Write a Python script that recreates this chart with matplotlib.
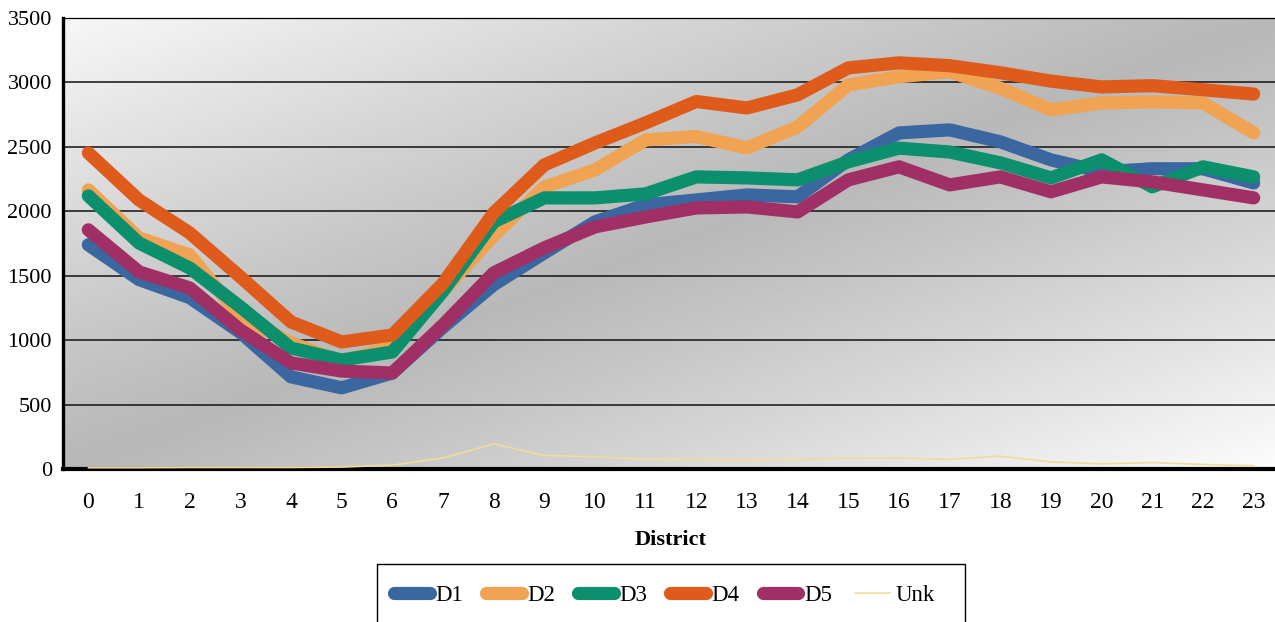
import numpy as np
import matplotlib
matplotlib.use("Agg")
import matplotlib.pyplot as plt
from matplotlib.patches import Rectangle

plt.rcParams['font.family'] = ['Liberation Serif', 'DejaVu Serif']

districts = list(range(24))
d1 = [1740, 1470, 1330, 1060, 715, 630, 745, 1100, 1430, 1677, 1918, 2050,
      2088, 2127, 2112, 2399, 2608, 2632, 2539, 2399, 2306, 2330, 2330, 2220]
d2 = [2166, 1793, 1661, 1180, 980, 830, 950, 1380, 1810, 2190, 2321, 2554,
      2580, 2492, 2655, 2981, 3044, 3083, 2955, 2787, 2841, 2849, 2841, 2608]
d3 = [2120, 1754, 1560, 1258, 939, 846, 908, 1380, 1918, 2104, 2104, 2135,
      2267, 2259, 2244, 2384, 2490, 2460, 2376, 2259, 2399, 2190, 2345, 2267]
d4 = [2453, 2088, 1832, 1491, 1141, 986, 1040, 1440, 1987, 2360, 2530, 2686,
      2852, 2802, 2904, 3113, 3152, 3130, 3075, 3010, 2965, 2975, 2943, 2910]
d5 = [1856, 1530, 1405, 1079, 823, 760, 745, 1118, 1522, 1716, 1879, 1956,
      2026, 2034, 1995, 2244, 2345, 2205, 2267, 2151, 2267, 2228, 2166, 2104]
unk = [10, 10, 12, 12, 12, 15, 30, 85, 195, 105, 95, 75,
       75, 70, 75, 85, 85, 75, 100, 55, 40, 50, 35, 25]

series = [("D1", d1, "#3b67a0", 9.5),
          ("D2", d2, "#f0a352", 9.5),
          ("D3", d3, "#0b8f6d", 9.5),
          ("D4", d4, "#de5b1c", 9.5),
          ("D5", d5, "#a02f66", 9.5),
          ("Unk", unk, "#f2dc9a", 1.2)]

W, H = 1275, 622
fig = plt.figure(figsize=(W / 100, H / 100), dpi=100)
ax = fig.add_axes([63 / W, 1 - 469 / H, 1216 / W, 451 / H])

# diagonal light-dark-light backdrop of the plot area
nx, ny = 400, 200
u = np.linspace(0, 1, nx)[None, :]
v = np.linspace(1, 0, ny)[:, None]
t = (u + (1 - v)) / 2
shade = 0.72 + (0.97 - 0.72) * np.abs(2 * t - 1) ** 1.1
shade = shade + 0.02 * (1 - v) * u
ax.imshow(np.clip(shade, 0, 1), cmap='gray', vmin=0, vmax=1,
          extent=[0, 1, 0, 1], transform=ax.transAxes, aspect='auto',
          zorder=0, interpolation='bilinear')

for name, vals, col, lw in series:
    ax.plot(districts, vals, color=col, lw=lw, solid_capstyle='round',
            solid_joinstyle='round', label=name, zorder=3)

ax.set_xlim(-0.5, 23.5)
ax.set_ylim(0, 3500)
ax.set_yticks(range(0, 3501, 500))
ax.set_xticks(districts)
ax.yaxis.grid(True, color='#111111', lw=1.1, zorder=1)
ax.set_axisbelow(True)
ax.tick_params(axis='both', length=0)
ax.tick_params(axis='x', pad=16.5, labelsize=17)
ax.tick_params(axis='y', pad=8, labelsize=16)

ax.spines['left'].set_linewidth(2.4)
ax.spines['bottom'].set_linewidth(3.0)
ax.spines['top'].set_linewidth(0.9)
ax.spines['right'].set_visible(False)

ax.set_xlabel("District", fontsize=16, fontweight='bold', labelpad=12)

# legend entries without frame, boxed by a separate rectangle
leg = fig.legend(loc='center left', bbox_to_anchor=(383 / W, 1 - 595 / H),
                 ncol=6, frameon=False, fontsize=16.5, borderpad=0,
                 handlelength=1.55, handletextpad=0.25, columnspacing=1.0)
for line in leg.get_lines():
    line.set_solid_capstyle('round')
fig.patches.append(Rectangle((377 / W, 1 - 632 / H), (965 - 377) / W,
                             (632 - 564) / H, transform=fig.transFigure,
                             fill=False, edgecolor='black', lw=1.0))

fig.savefig("out.png", dpi=100)
